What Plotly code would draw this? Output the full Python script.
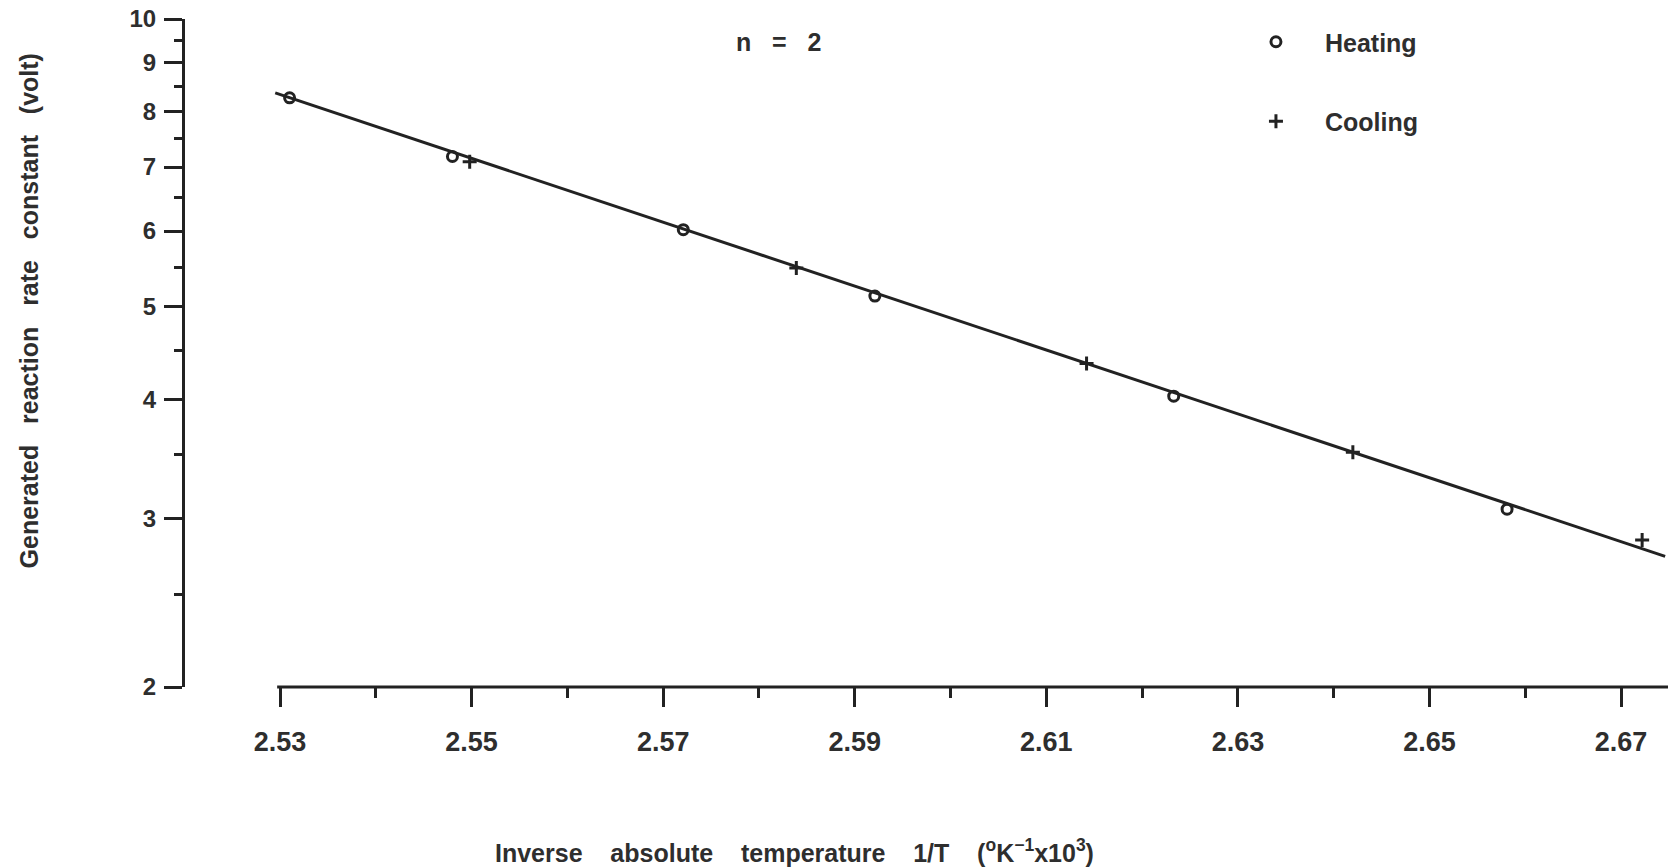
import math
import plotly.graph_objects as go

# Measured rate constants (volt) against inverse temperature (1/K x 10^3)
heat_x = [2.5310, 2.5480, 2.5721, 2.5921, 2.6233, 2.6581]
heat_y = [8.27, 7.18, 6.02, 5.13, 4.03, 3.07]
cool_x = [2.5498, 2.5839, 2.6142, 2.6420, 2.6722]
cool_y = [7.09, 5.49, 4.36, 3.52, 2.85]

# Straight-line (Arrhenius) fit end points
fit_x = [2.5295, 2.6746]
fit_y = [8.37, 2.74]

# Axis ticks
x_ticks = [2.53, 2.55, 2.57, 2.59, 2.61, 2.63, 2.65, 2.67]
x_tick_labels = ["2.53", "2.55", "2.57", "2.59", "2.61", "2.63", "2.65", "2.67"]
x_minor = [2.54, 2.56, 2.58, 2.60, 2.62, 2.64, 2.66]
y_ticks = [2, 3, 4, 5, 6, 7, 8, 9, 10]
y_tick_labels = ["2", "3", "4", "5", "6", "7", "8", "9", "10"]
y_minor = [2.5, 3.5, 4.5, 5.5, 6.5, 7.5, 8.5, 9.5]

INK = "#222222"
TEXT = "#2e2e2e"
FONT = "Liberation Sans, Arial, sans-serif"
NB = "\u00a0"

fig = go.Figure()

fig.add_trace(go.Scatter(
    x=fit_x, y=fit_y, mode="lines",
    line=dict(color=INK, width=3),
    showlegend=False, hoverinfo="skip",
))
fig.add_trace(go.Scatter(
    x=heat_x, y=heat_y, mode="markers", name="Heating",
    legendgroup="h",
    marker=dict(symbol="circle-open", size=10, color=INK, line=dict(width=3, color=INK)),
))
fig.add_trace(go.Scatter(
    x=cool_x, y=cool_y, mode="markers", name="Cooling",
    legendgroup="c",
    marker=dict(symbol="cross-thin-open", size=10, color=INK, line=dict(width=3, color=INK)),
))

# x axis baseline starts just left of the first tick
fig.add_shape(
    type="line", xref="x", yref="paper",
    x0=2.5297, x1=2.6749, y0=0, y1=0,
    line=dict(color=INK, width=3),
)

fig.update_xaxes(
    range=[2.52008, 2.67490],
    tickmode="array", tickvals=x_ticks, ticktext=x_tick_labels,
    ticks="outside", ticklen=19, tickwidth=2.5, tickcolor=INK,
    ticklabelstandoff=12,
    tickfont=dict(family=FONT, size=27, color=TEXT, weight="bold"),
    minor=dict(tickmode="array", tickvals=x_minor, ticks="outside", ticklen=10,
               tickwidth=2.5, tickcolor=INK, showgrid=False),
    showline=False, showgrid=False, zeroline=False,
)
fig.update_yaxes(
    type="log", range=[math.log10(2), 1],
    tickmode="array", tickvals=y_ticks, ticktext=y_tick_labels,
    ticks="outside", ticklen=18, tickwidth=2.5, tickcolor=INK,
    ticklabelstandoff=3,
    tickfont=dict(family=FONT, size=24, color=TEXT, weight="bold"),
    minor=dict(tickmode="array", tickvals=y_minor, ticks="outside", ticklen=8,
               tickwidth=2.5, tickcolor=INK, showgrid=False),
    showline=True, linewidth=3, linecolor=INK,
    showgrid=False, zeroline=False,
)

fig.add_annotation(
    text=f"Generated{NB*3}reaction{NB*3}rate{NB*3}constant{NB*3}(volt)",
    xref="paper", yref="paper", x=-0.1055, y=0.563,
    xanchor="center", yanchor="middle", textangle=-90, showarrow=False,
    font=dict(family=FONT, size=25, color=TEXT, weight="bold"),
)
fig.add_annotation(
    text=(f"Inverse{NB*4}absolute{NB*4}temperature{NB*4}1/T{NB*4}"
          "(<sup>o</sup>K<sup>\u22121</sup>x10<sup>3</sup>)"),
    xref="paper", yref="paper", x=0.4113, y=-0.2455,
    xanchor="center", yanchor="middle", showarrow=False,
    font=dict(family=FONT, size=25, color=TEXT, weight="bold"),
)
fig.add_annotation(
    text=f"n{NB*3}={NB*3}2",
    xref="paper", yref="paper", x=0.4004, y=0.966,
    xanchor="center", yanchor="middle", showarrow=False,
    font=dict(family=FONT, size=25, color=TEXT, weight="bold"),
)

fig.update_layout(
    width=1668, height=867,
    margin=dict(l=185, r=0, t=19, b=180, pad=0),
    paper_bgcolor="white", plot_bgcolor="white",
    showlegend=True,
    legend=dict(
        x=0.7026, y=1.0, xanchor="left", yanchor="top",
        bgcolor="rgba(0,0,0,0)", borderwidth=0,
        traceorder="grouped", tracegroupgap=44, itemwidth=88,
        font=dict(family=FONT, size=25, color=TEXT, weight="bold"),
    ),
)

fig.write_html("out.html")
